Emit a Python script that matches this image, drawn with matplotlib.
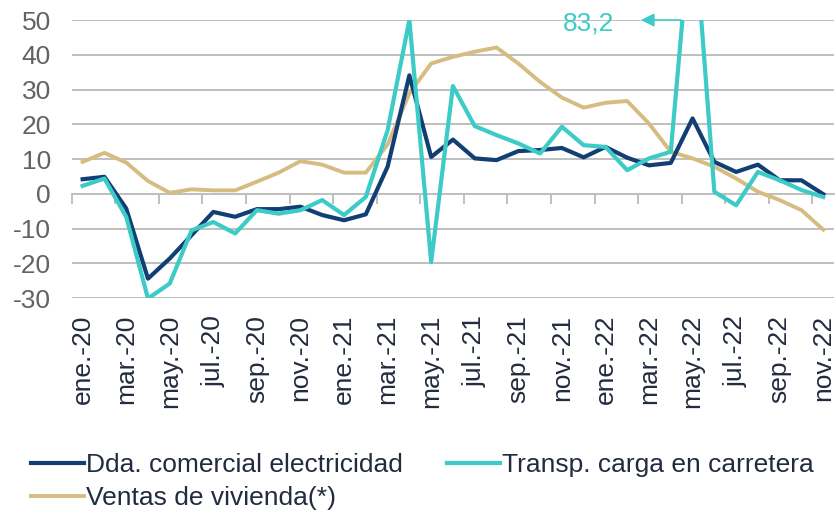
import matplotlib
matplotlib.use('Agg')
import matplotlib.pyplot as plt
import numpy as np

plt.rcParams['font.family'] = ['Liberation Sans', 'DejaVu Sans']
plt.rcParams['axes.unicode_minus'] = False

# monthly data, ene-20 .. nov-22
months = ['ene.', 'feb.', 'mar.', 'abr.', 'may.', 'jun.',
          'jul.', 'ago.', 'sep.', 'oct.', 'nov.', 'dic.']
years = ['20', '21', '22']
labels = [f"{m}-{y}" for y in years for m in months][:35]

electricidad = [4.2, 4.9, -4.2, -24.4, -18.6, -11.9, -5.2, -6.6, -4.4, -4.4,
                -3.7, -6.1, -7.6, -5.9, 7.8, 34.1, 10.6, 15.6, 10.2, 9.7,
                12.3, 12.6, 13.2, 10.5, 13.5, 10.4, 8.2, 8.9, 21.7, 9.2,
                6.3, 8.4, 3.9, 3.9, -0.1]
carga = [2.3, 4.4, -6.6, -30.1, -25.8, -10.5, -8.1, -11.4, -4.7, -5.7,
         -4.7, -1.8, -6.1, -0.9, 18.3, 50.0, -19.6, 31.0, 19.5, 16.9,
         14.5, 11.6, 19.3, 14.0, 13.5, 6.8, 10.2, 12.1, 83.2, 0.6,
         -3.3, 6.3, 3.9, 1.1, -0.9]
vivienda = [9.2, 11.8, 9.0, 3.7, 0.3, 1.3, 1.0, 1.0, 3.5, 6.1,
            9.4, 8.4, 6.1, 6.1, 14.2, 28.9, 37.5, 39.4, 40.9, 42.1,
            37.5, 32.2, 27.7, 24.8, 26.2, 26.7, 20.2, 12.1, 10.2, 7.8,
            4.4, 0.6, -1.8, -4.7, -10.3]

NAVY = "#123F73"
TEAL = "#3CCBC7"
GOLD = "#D6BC80"
GRID = "#BFBFBF"
TXT = "#636363"
DARK = "#232B40"

YMIN, YMAX = -30, 50
FS = 19

x = np.arange(len(labels))

fig = plt.figure(figsize=(8.36, 5.14), dpi=100)
ax = fig.add_axes([0.0858, 0.420, 0.912, 0.541])

l1, = ax.plot(x, electricidad, color=NAVY, lw=3.0, label='Dda. comercial electricidad', zorder=3)
l2, = ax.plot(x, carga, color=TEAL, lw=3.0, label='Transp. carga en carretera', zorder=4)
l3, = ax.plot(x, vivienda, color=GOLD, lw=2.8, label='Ventas de vivienda(*)', zorder=2)

ax.set_xlim(-0.5, len(labels) - 0.5)
ax.set_ylim(YMIN, YMAX)
ax.set_yticks(np.arange(YMIN, YMAX + 1, 10))
ax.yaxis.grid(True, color=GRID, lw=1.4)
ax.set_axisbelow(True)
for s in ax.spines.values():
    s.set_visible(False)

ax.tick_params(axis='y', length=0, pad=15, labelsize=FS, labelcolor=TXT)
ax.set_xticks(x[::2])
ax.set_xticklabels(labels[::2], rotation=90)
ax.tick_params(axis='x', length=0, pad=12, labelsize=FS, labelcolor=DARK)

# category axis crossing at zero, ticks between categories
sec = ax.secondary_xaxis((0 - YMIN) / (YMAX - YMIN))
sec.set_xticks(np.arange(-0.5, len(labels) - 1, 2))
sec.set_xticklabels([])
sec.tick_params(axis='x', direction='out', length=7, width=1.4, color=GRID)
sec.spines['bottom'].set_color(GRID)
sec.spines['bottom'].set_linewidth(1.4)

# off-scale peak marker
pk = int(np.argmax(carga))
ax.annotate('', xy=(pk - 2.5, YMAX), xytext=(pk - 0.4, YMAX),
            arrowprops=dict(arrowstyle='-|>', color=TEAL, lw=1.2,
                            mutation_scale=20),
            annotation_clip=False, zorder=5)
ax.text(pk - 3.6, YMAX - 1, f"{carga[pk]:.1f}".replace('.', ','),
        ha='right', va='center', fontsize=FS, color=TEAL)

fig.legend([l1, l3, l2], [l1.get_label(), l3.get_label(), l2.get_label()],
           loc='upper left', bbox_to_anchor=(0.037, 0.118), ncol=2,
           frameon=False, fontsize=FS, handlelength=2.0, handletextpad=0.1,
           columnspacing=1.65, labelspacing=0.33, borderpad=0, borderaxespad=0,
           labelcolor=DARK)

fig.savefig('out.png', dpi=100)
